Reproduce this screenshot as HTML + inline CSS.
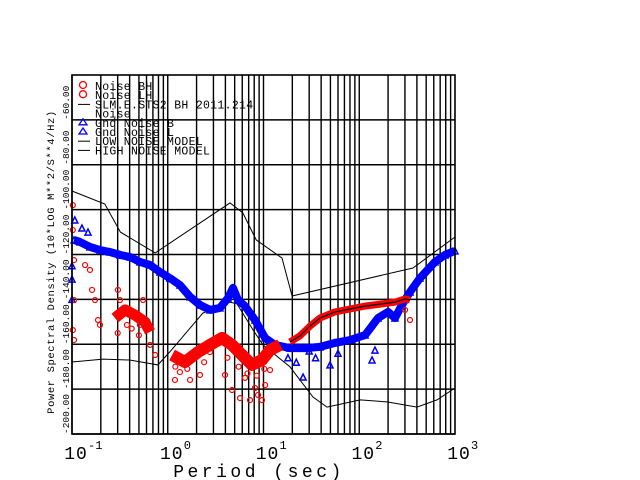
<!DOCTYPE html>
<html><head><meta charset="utf-8"><style>
body{margin:0;background:#fff;}
svg{display:block;font-family:"Liberation Mono","DejaVu Sans Mono",monospace;}
</style></head><body>
<svg id="chart" width="640" height="480" viewBox="0 0 640 480" xmlns="http://www.w3.org/2000/svg">
<rect x="0" y="0" width="640" height="480" fill="#fff"/>
<g id="grid"></g>
<g id="models"></g>
<g id="blue"></g>
<g id="red"></g>
<g id="axes"></g>
<g id="legend"></g>
<text x="54" y="262" font-size="10.5" text-anchor="middle" transform="rotate(-90 54 262)" letter-spacing="0.6">Power Spectral Density (10*LOG M**2/S**4/Hz)</text>
<text x="259" y="477" font-size="18" text-anchor="middle" letter-spacing="3.5">Period (sec)</text>
</svg>
<script>
// Data arrays
const yTicks = [-200,-180,-160,-140,-120,-100,-80,-60];
const yTickLabels = ["-200.00","-180.00","-160.00","-140.00","-120.00","-100.00","-80.00","-60.00"];
const xDecades = [-1,0,1,2,3];
const xDecadeLabels = ["-1","0","1","2","3"];

const nhnmPeriod = [0.1,0.22,0.32,0.74,4.47,6.1,8.4,15.6,19.9,364,1000];
const nhnmDb = [-91.7,-97.5,-110,-119.3,-97,-101.5,-113.5,-121.6,-138.5,-126,-112.2];
const nlnmPeriod = [0.1,0.211,0.40,0.79,1.05,2.33,4.47,5.29,7.76,9.88,18.9,24,32.9,46,102,195,401,649,1000];
const nlnmDb = [-167.9,-166.6,-167,-169.2,-163.4,-146.1,-141.2,-142,-153.6,-160.3,-170.1,-175.9,-183.5,-188,-184.8,-185.7,-188,-184.8,-179.5];

const bluePeriod = [0.105,0.121,0.154,0.196,0.249,0.317,0.404,0.513,0.653,0.83,1.05,1.34,1.71,2.17,2.76,3.51,4.26,4.8,5.42,6.41,8.15,10.4,13.2,18.9,27.1,38.9,55.8,80,115,157,200,236,279,339,431,618,787,1000];
const blueDb = [-113.5,-114.4,-116.6,-118,-118.9,-120.2,-121.1,-123.3,-124.7,-127.8,-130.5,-133.6,-138.9,-142.5,-144.7,-143.8,-139.4,-134.9,-140.3,-143,-149.2,-157.2,-160.3,-161.7,-161.7,-161.2,-159.4,-158.1,-155.9,-148.3,-145.6,-148.3,-142.5,-136.7,-130.5,-123.3,-120.2,-118.4];
const blueExtraPeriod = [0.107,0.127,0.147,0.1,0.1,0.1,25.9,49.5,146,136,18,35,60,22,30];
const blueExtraDb = [-104.6,-108.2,-110,-125,-131,-140,-174.6,-169.2,-162.6,-167,-166,-166,-164,-168,-163];

const redUpperPeriod = [18.9,24,30.6,38.9,55.8,80,115,165,236,301,339];
const redUpperDb = [-159,-156.3,-151.9,-148.3,-145.6,-144.3,-143,-142.1,-141.2,-139.8,-140.3];
const redClusterAPeriod = [0.281,0.358,0.455,0.578,0.653];
const redClusterADb = [-148.3,-144.7,-147,-150.1,-154.5];
const redClusterBPeriod = [1.11,1.51,2.07,2.76,3.69,4.69,5.96,7.59,9.64,11.7,14.9];
const redClusterBDb = [-164.8,-167.9,-163.5,-160.3,-157.2,-160.3,-164.8,-169.2,-167,-162.6,-160.3];
const redPtPeriod = [0.102,0.102,0.105,0.105,0.102,0.105,0.137,0.154,0.162,0.174,0.187,0.196,0.302,0.317,0.375,0.513,0.552,0.653,0.74,1.19,1.34,1.71,2.17,2.76,3.96,4.69,5.69,7.23,8.77,9.64,10.4,11.7,5.03,6.41,8.15,339,301,0.3,0.42,0.5,1.2,1.6,2.4,4.2,5.5,6.8,8.5,10.2];
const redPtDb = [-98,-109.1,-122.5,-140.3,-153.7,-158.1,-124.7,-126.9,-135.8,-140.3,-149.2,-151.4,-135.8,-140.3,-151.4,-151.4,-140.3,-160.3,-164.8,-175.9,-172.4,-175.9,-173.7,-163.5,-173.7,-180.4,-184,-184.9,-182.6,-184.9,-178.2,-171.5,-160.3,-175,-179.5,-149.2,-144.7,-155,-153,-156,-170,-171,-168,-166,-170,-173,-174,-171];

// Axes
const X0=72, X1=455, Y0=75, Y1=434;
const xs = p => X0 + (Math.log10(p)+1)/4*(X1-X0);
const ys = v => Y0 + (-40 - v)/160*(Y1-Y0);
const NS="http://www.w3.org/2000/svg";
function mk(tag, attrs, parent){const e=document.createElementNS(NS,tag);for(const k in attrs)e.setAttribute(k,attrs[k]);parent.appendChild(e);return e;}
function pts(P,V){return P.map((p,i)=>xs(p).toFixed(1)+","+ys(V[i]).toFixed(1)).join(" ");}

const grid=document.getElementById('grid');
for(let d=-1; d<3; d++){for(let m=1;m<=9;m++){const x=xs(m*Math.pow(10,d));
  const l=mk('line',{x1:x,x2:x,y1:Y0,y2:Y1,stroke:'#000','stroke-width':1.4},grid);
  
  }}
yTicks.forEach(v=>{const l=mk('line',{x1:X0,x2:X1,y1:ys(v),y2:ys(v),stroke:'#000','stroke-width':1.4},grid);
  
  });

const axes=document.getElementById('axes');
const fr=mk('rect',{x:X0,y:Y0,width:X1-X0,height:Y1-Y0,fill:'none',stroke:'#000','stroke-width':1.6},axes);


yTicks.forEach((v,i)=>{const y=ys(v);const t=mk('text',{x:0,y:0,'font-size':9.5,transform:`translate(69 ${y}) rotate(-90)`},axes);
  t.textContent=yTickLabels[i];
  
  });
xDecades.forEach((d,i)=>{const x=xs(Math.pow(10,d));const t=mk('text',{x:x+4,y:459,'font-size':18,'text-anchor':'middle','letter-spacing':1},axes);
  t.textContent='10';
  
  
  const e=mk('text',{x:x+16,y:449,'font-size':12},axes);
  e.textContent=xDecadeLabels[i];
  
  });

const models=document.getElementById('models');
const hn=mk('polyline',{points:pts(nhnmPeriod,nhnmDb),fill:'none',stroke:'#000','stroke-width':1},models);


const ln=mk('polyline',{points:pts(nlnmPeriod,nlnmDb),fill:'none',stroke:'#000','stroke-width':1},models);



const blue=document.getElementById('blue');
const bl=mk('polyline',{points:pts(bluePeriod,blueDb),fill:'none',stroke:'#0000ff','stroke-width':8,'stroke-linejoin':'round'},blue);


bluePeriod.concat(blueExtraPeriod).forEach((p,i)=>{const v=i<bluePeriod.length?blueDb[i]:blueExtraDb[i-bluePeriod.length];
  const x=xs(p),y=ys(v);
  const t=mk('polygon',{points:`${x-3},${y+3} ${x+3},${y+3} ${x},${y-3}`,fill:'none',stroke:'#0000ff','stroke-width':1.5},blue);
  
  });

const red=document.getElementById('red');
[[redClusterAPeriod,redClusterADb,11],[redClusterBPeriod,redClusterBDb,12],[redUpperPeriod,redUpperDb,7]].forEach(s=>{
  const l=mk('polyline',{points:pts(s[0],s[1]),fill:'none',stroke:'#ff0000','stroke-width':s[2],'stroke-linejoin':'round'},red);
  
  });
const bk=mk('polyline',{points:pts(redUpperPeriod,redUpperDb),fill:'none',stroke:'#000','stroke-width':1.2},red);


redPtPeriod.forEach((p,i)=>{const c=mk('circle',{cx:xs(p),cy:ys(redPtDb[i]),r:2.5,fill:'none',stroke:'#ff0000','stroke-width':1.2},red);
  
  });

// Legend
const lg=document.getElementById('legend');
const items=[["Noise BH","circle"],["Noise LH","circle"],["SLM.E.STS2 BH  2011.214","line"],["Noise",""],["Gnd Noise B","tri"],["Gnd Noise L","tri"],["LOW NOISE MODEL","line"],["HIGH NOISE MODEL","line"]];
items.forEach((it,i)=>{const y=86+i*9.2;
  const t=mk('text',{x:95,y:y+4,'font-size':11.5,'letter-spacing':0.3},lg);
  t.textContent=it[0];
  
  
  if(it[1]==='circle'){const c=mk('circle',{cx:83,cy:y-1,r:3.5,fill:'none',stroke:'#ff0000','stroke-width':1.3},lg);
    
    }
  else if(it[1]==='tri'){const p=mk('polygon',{points:`79,${y+2} 87,${y+2} 83,${y-4}`,fill:'none',stroke:'#0000ff','stroke-width':1.3},lg);
    
    }
  else if(it[1]==='line'){const l=mk('line',{x1:78,x2:90,y1:y,y2:y,stroke:'#000','stroke-width':1},lg);
    
    }
});
</script>
</body></html>
